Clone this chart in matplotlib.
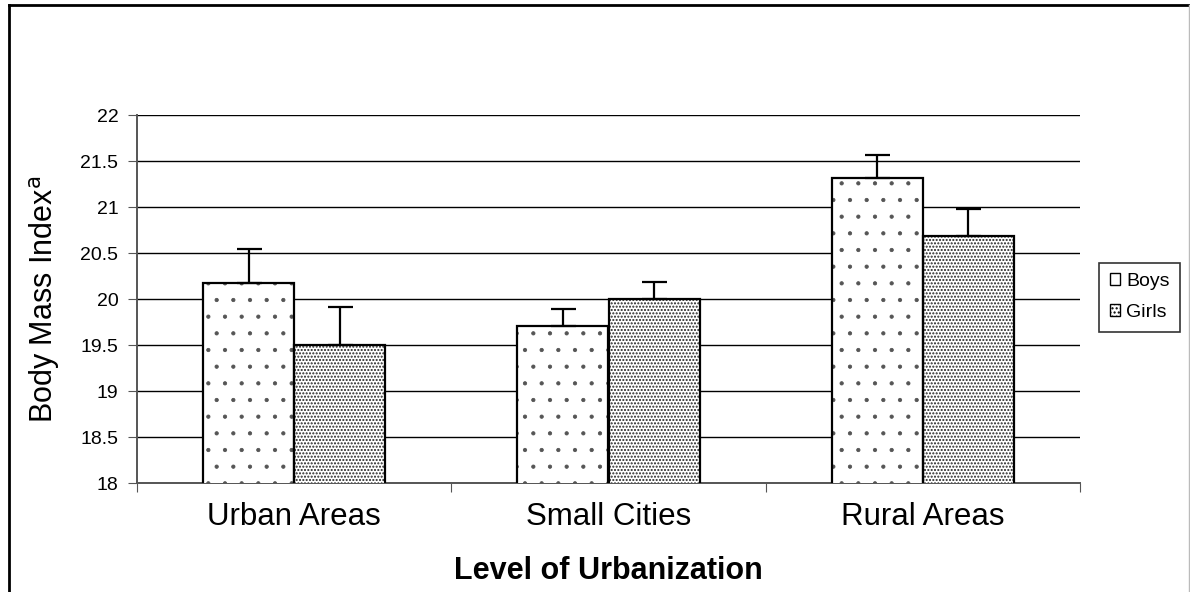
import matplotlib
matplotlib.use("Agg")
import matplotlib.pyplot as plt
import numpy as np
from matplotlib.lines import Line2D
from matplotlib.patches import Patch

plt.rcParams['font.family'] = ['Liberation Sans', 'DejaVu Sans']

categories = ["Urban Areas", "Small Cities", "Rural Areas"]
boys = [20.17, 19.71, 21.31]
girls = [19.50, 20.00, 20.69]
boys_err = [0.37, 0.18, 0.26]
girls_err = [0.41, 0.19, 0.29]
yticks = [18, 18.5, 19, 19.5, 20, 20.5, 21, 21.5, 22]
ytick_labels = ["18", "18.5", "19", "19.5", "20", "20.5", "21", "21.5", "22"]

fig = plt.figure(figsize=(11.9, 5.92), dpi=100)
ax = fig.add_axes([137/1190, 1-483/592, (1080-137)/1190, (483-115)/592])

x = np.arange(len(categories))
w = 0.29

# hatch layers (grey dots), then outlines
with plt.rc_context({'hatch.linewidth': 0.6}):
    ax.bar(x - w/2, boys, w, color='white', edgecolor='#555555', hatch='.', linewidth=0, zorder=3)
with plt.rc_context({'hatch.linewidth': 1.0}):
    ax.bar(x + w/2, girls, w, color='white', edgecolor='#222222', hatch='.....', linewidth=0, zorder=3)
ax.bar(x - w/2, boys, w, fill=False, edgecolor='black', linewidth=1.6, zorder=3.5)
ax.bar(x + w/2, girls, w, fill=False, edgecolor='black', linewidth=1.6, zorder=3.5)

ax.errorbar(x - w/2, boys, yerr=[np.zeros(3), boys_err], fmt='none', ecolor='black', elinewidth=1.6, capsize=9, capthick=1.6, zorder=4)
ax.errorbar(x + w/2, girls, yerr=[np.zeros(3), girls_err], fmt='none', ecolor='black', elinewidth=1.6, capsize=9, capthick=1.6, zorder=4)

ax.set_ylim(18, 22)
ax.set_xlim(-0.5, 2.5)
ax.set_yticks(yticks)
ax.set_yticklabels(ytick_labels, fontsize=14)
ax.yaxis.grid(True, color='black', linewidth=1.0, zorder=0)
ax.set_axisbelow(True)
ax.set_xticks([-0.5, 0.5, 1.5, 2.5])
ax.set_xticklabels([])
ax.set_xticks(x, minor=True)
ax.set_xticklabels(categories, minor=True, fontsize=22.5)
ax.tick_params(axis='x', which='minor', length=0, pad=14)
ax.tick_params(axis='x', which='major', length=6.5, color='#555555', direction='out')
ax.tick_params(axis='y', length=6.5, pad=7, direction='out', color='#555555')
for s in ['top', 'right']:
    ax.spines[s].set_visible(False)
ax.spines['left'].set_color('#555555')
ax.spines['bottom'].set_color('#555555')
ax.spines['left'].set_linewidth(1.4)
ax.spines['bottom'].set_linewidth(1.4)

ax.set_ylabel("Body Mass Index$^{\\mathrm{a}}$", fontsize=22, labelpad=13)
ax.set_xlabel("Level of Urbanization", fontsize=22, fontweight='bold', labelpad=17)

with plt.rc_context({'hatch.linewidth': 0.8}):
    handles = [Patch(facecolor='white', edgecolor='black', linewidth=1.0, label='Boys'),
               Patch(facecolor='white', edgecolor='black', linewidth=1.0, hatch='....', label='Girls')]
leg = ax.legend(handles=handles, loc='center left', bbox_to_anchor=(1099/1190, 1-297/592),
                bbox_transform=fig.transFigure,
                fontsize=14, frameon=True, fancybox=False, edgecolor='black',
                handlelength=0.55, handleheight=0.55, handletextpad=0.3, borderpad=0.55,
                borderaxespad=0, labelspacing=0.7)
leg.get_frame().set_linewidth(1.2)

fig.add_artist(Line2D([9/1190, 9/1190], [0, 1-5/592], transform=fig.transFigure, color='black', linewidth=2))
fig.add_artist(Line2D([9/1190, 1], [1-5/592, 1-5/592], transform=fig.transFigure, color='black', linewidth=2))
fig.add_artist(Line2D([1189/1190, 1189/1190], [0, 1-5/592], transform=fig.transFigure, color='#bbbbbb', linewidth=1))

fig.savefig("out.png", dpi=100)
